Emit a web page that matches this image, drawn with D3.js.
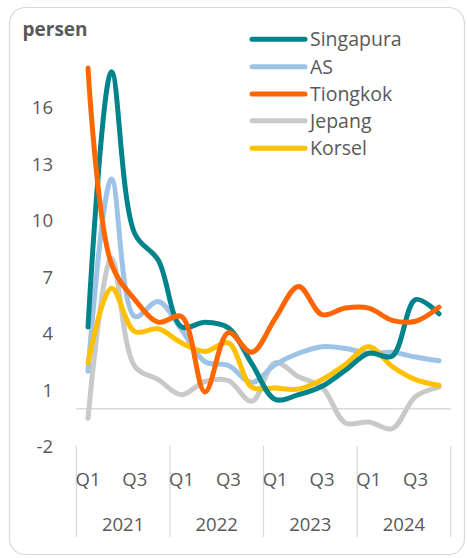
<!DOCTYPE html>
<html>
<head>
<meta charset="UTF-8">
<script src="https://d3js.org/d3.v7.min.js"></script>
<style>
  body { margin: 0; background: #fff; }
  svg { display: block; font-family: "Open Sans", "Noto Sans", sans-serif; }
</style>
</head>
<body>
<div id="chart"></div>
<script>
// quarters 2021Q1 .. 2024Q4
var years = ["2021", "2022", "2023", "2024"];
var quarters = ["Q1", "Q2", "Q3", "Q4"];
var yTicks = [-2, 1, 4, 7, 10, 13, 16];

var singapura = [4.35, 17.9, 9.3, 7.9, 4.35, 4.6, 4.3, 2.4, 0.5, 0.75, 1.2, 2.05, 2.95, 2.8, 5.8, 5.05];
var as = [2.0, 12.2, 4.9, 5.7, 4.2, 2.5, 2.3, 1.4, 2.35, 2.95, 3.3, 3.2, 2.95, 3.0, 2.75, 2.55];
var tiongkok = [18.1, 7.7, 5.8, 4.6, 4.9, 0.9, 4.05, 3.0, 4.8, 6.5, 5.0, 5.35, 5.35, 4.7, 4.65, 5.4];
var jepang = [-0.5, 8.0, 2.25, 1.55, 0.75, 1.45, 1.5, 0.4, 2.45, 1.7, 1.15, -0.75, -0.7, -1.05, 0.65, 1.15];
var korsel = [2.45, 6.4, 4.1, 4.25, 3.5, 3.05, 3.5, 1.15, 1.1, 1.05, 1.55, 2.35, 3.3, 2.25, 1.55, 1.25];

var seriesNames = ["Singapura", "AS", "Tiongkok", "Jepang", "Korsel"];
var seriesValues = [singapura, as, tiongkok, jepang, korsel];
var seriesColors = ["#00838a", "#9dc3e6", "#ff6600", "#c9c9c9", "#ffc000"];
// draw order (back to front)
var drawOrder = [3, 1, 4, 0, 2];

var width = 467, height = 558;
var keys = [];
years.forEach(function (y) { quarters.forEach(function (q) { keys.push(y + q); }); });

var svg = d3.select("#chart").append("svg")
    .attr("width", width)
    .attr("height", height);

// frame
svg.append("rect")
    .attr("x", 9.5).attr("y", 7.5)
    .attr("width", 455).attr("height", 547)
    .attr("rx", 16)
    .attr("fill", "#fff")
    .attr("stroke", "#d9d9d9")
    .attr("stroke-width", 1.2);

var x = d3.scaleBand().domain(keys).range([76.3, 450.7]).padding(0);
var xYear = d3.scaleBand().domain(years).range([76.3, 450.7]).padding(0);
var y = d3.scaleLinear().domain([-2, 18.4]).range([446.5, 62.3]);

function cx(i) { return x(keys[i]) + x.bandwidth() / 2; }

var fs = 18.5;

// y tick labels
svg.append("g").selectAll("text")
    .data(yTicks)
    .enter().append("text")
    .attr("x", 53)
    .attr("y", function (d) { return y(d); })
    .attr("dy", "0.36em")
    .attr("text-anchor", "end")
    .attr("font-size", fs)
    .attr("fill", "#595959")
    .text(function (d) { return d; });

// zero line
svg.append("line")
    .attr("x1", 76.3).attr("x2", 450.7)
    .attr("y1", y(0)).attr("y2", y(0))
    .attr("stroke", "#d9d9d9")
    .attr("stroke-width", 1.5);

// category separators
var bounds = years.map(function (d) { return xYear(d); }).concat([450.7]);
svg.append("g").selectAll("line")
    .data(bounds)
    .enter().append("line")
    .attr("x1", function (d) { return d; })
    .attr("x2", function (d) { return d; })
    .attr("y1", 446).attr("y2", 537)
    .attr("stroke", "#d9d9d9")
    .attr("stroke-width", 1.2);

// quarter labels (Q1, Q3 only)
var qLabels = keys.map(function (k, i) { return { k: k, i: i, q: quarters[i % 4] }; })
    .filter(function (d) { return d.q === "Q1" || d.q === "Q3"; });
svg.append("g").selectAll("text")
    .data(qLabels)
    .enter().append("text")
    .attr("x", function (d) { return cx(d.i); })
    .attr("y", 479)
    .attr("dy", "0.36em")
    .attr("text-anchor", "middle")
    .attr("font-size", fs)
    .attr("fill", "#595959")
    .text(function (d) { return d.q; });

// year labels
svg.append("g").selectAll("text")
    .data(years)
    .enter().append("text")
    .attr("x", function (d) { return xYear(d) + xYear.bandwidth() / 2; })
    .attr("y", 524)
    .attr("dy", "0.36em")
    .attr("text-anchor", "middle")
    .attr("font-size", fs)
    .attr("fill", "#595959")
    .text(function (d) { return d; });

// lines
var line = d3.line()
    .x(function (d, i) { return cx(i); })
    .y(function (d) { return y(d); })
    .curve(d3.curveCatmullRom.alpha(0.5));

svg.append("g").selectAll("path")
    .data(drawOrder)
    .enter().append("path")
    .attr("d", function (s) { return line(seriesValues[s]); })
    .attr("fill", "none")
    .attr("stroke", function (s) { return seriesColors[s]; })
    .attr("stroke-width", 5)
    .attr("stroke-linecap", "round")
    .attr("stroke-linejoin", "round");

// unit title
svg.append("text")
    .attr("x", 22.5).attr("y", 35.5)
    .attr("font-size", 19)
    .attr("font-weight", "bold")
    .attr("fill", "#595959")
    .text("persen");

// legend
var legendY = [39.3, 66.7, 94, 120.7, 148.3];
var legend = svg.append("g").selectAll("g")
    .data(seriesNames)
    .enter().append("g")
    .attr("transform", function (d, i) { return "translate(0," + legendY[i] + ")"; });
legend.append("line")
    .attr("x1", 252).attr("x2", 305)
    .attr("stroke", function (d, i) { return seriesColors[i]; })
    .attr("stroke-width", 5)
    .attr("stroke-linecap", "round");
legend.append("text")
    .attr("x", 310)
    .attr("dy", "0.36em")
    .attr("font-size", 19.5)
    .attr("fill", "#595959")
    .text(function (d) { return d; });
</script>
</body>
</html>
